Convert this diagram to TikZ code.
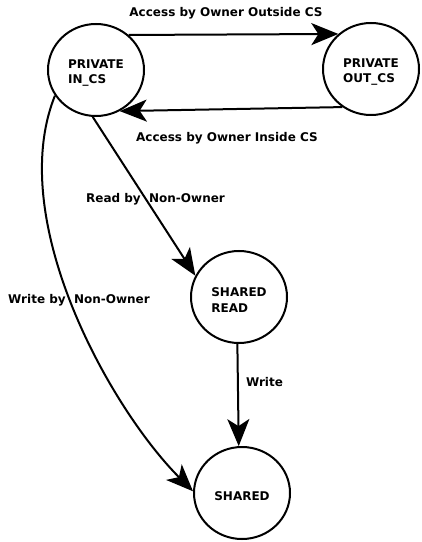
\documentclass[tikz,border=0pt]{standalone}
\usepackage{fontspec}
\setmainfont{DejaVu Sans}
\usetikzlibrary{shapes.geometric,arrows.meta}
\newcommand\mynodestrut{\rule{0pt}{15bp}}
\begin{document}
\begin{tikzpicture}[x=1bp,y=-1bp,
  state/.style={ellipse,draw,line width=2bp,minimum width=96bp,minimum height=92bp,inner sep=0pt,align=left,font=\fontsize{12bp}{15.3bp}\selectfont\bfseries},
  lbl/.style={anchor=base,inner sep=0pt,font=\fontsize{12bp}{15bp}\selectfont\bfseries},
  edge/.style={line width=2bp,-{Stealth[length=27bp,width=22bp,inset=7bp]}}]
\useasboundingbox (0,0) rectangle (421,542);
\node[state] (in) at (96,70) {\mynodestrut PRIVATE\\IN\_CS};
\node[state] (out) at (371,69) {\mynodestrut PRIVATE\\OUT\_CS};
\node[state] (sr) at (239,297) {\mynodestrut SHARED\\READ};
\node[state] (sh) at (242,493) {\mynodestrut SHARED};
\draw[edge] (in.47) -- (out.133);
\draw[edge] (out.233) -- (in.300);
\draw[edge] (in.266) -- (sr.154);
\draw[edge] (sr.268) -- (sh.94);
\draw[edge] (in.212) .. controls (5,220) and (110,408) .. (sh.178);
\node[lbl] (l1) at (226,17) {Access by Owner Outside CS};
\node[lbl] (l2) at (227,141.5) {Access by Owner Inside CS};
\node[lbl] (l3) at (155.5,203) {Read by\ \ Non-Owner};
\node[lbl] (l4) at (79,303) {Write by\ \ Non-Owner};
\node[lbl] (l5) at (264.5,386.5) {Write};
\end{tikzpicture}
\end{document}
